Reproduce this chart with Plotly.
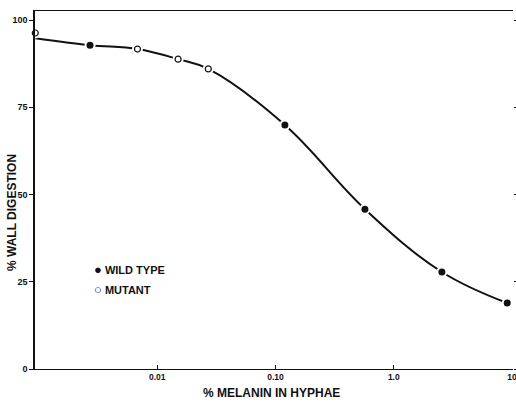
import plotly.graph_objects as go

# Data
wild_x = [0.0027, 0.12, 0.57, 2.55, 9.1]
wild_y = [92.8, 69.9, 45.8, 27.8, 18.9]
mutant_x = [0.00093, 0.0068, 0.015, 0.027]
mutant_y = [96.3, 91.7, 88.8, 86.0]
curve_x = [0.00093, 0.0027, 0.0068, 0.015, 0.027, 0.12, 0.57, 2.55, 9.1]
curve_y = [94.8, 92.8, 91.7, 88.8, 86.0, 69.9, 45.8, 27.8, 18.9]

y_ticks = [0, 25, 50, 75, 100]
y_ticktext = ["0", "25", "50", "75", "100"]
x_ticks = [0.01, 0.1, 1, 10]
x_ticktext = ["0.01", "0.10", "1.0", "10"]

FONT = "Liberation Sans"
INK = "#111111"

fig = go.Figure()

fig.add_trace(go.Scatter(x=curve_x, y=curve_y, mode="lines",
                         line=dict(color=INK, width=2, shape="spline", smoothing=1.1),
                         showlegend=False, hoverinfo="skip", cliponaxis=False))
# white halos that open small gaps in the line around each point
fig.add_trace(go.Scatter(x=wild_x + mutant_x, y=wild_y + mutant_y, mode="markers",
                         marker=dict(size=11, color="white", line=dict(width=0)),
                         showlegend=False, hoverinfo="skip", cliponaxis=False))
fig.add_trace(go.Scatter(x=wild_x, y=wild_y, mode="markers", name="WILD TYPE",
                         marker=dict(size=7, color=INK, line=dict(width=0)),
                         showlegend=False, cliponaxis=False))
fig.add_trace(go.Scatter(x=mutant_x, y=mutant_y, mode="markers", name="MUTANT",
                         marker=dict(size=6, color="white", line=dict(width=1.2, color=INK)),
                         showlegend=False, cliponaxis=False))
fig.add_trace(go.Scatter(x=[], y=[], yaxis="y2", showlegend=False))

L, R, T, B = 35, 3, 11, 34
PW, PH = 516 - L - R, 403 - T - B


def px(xp):
    return (xp - L) / PW


def py(yp):
    return (403 - B - yp) / PH


fig.update_layout(
    width=516, height=403,
    margin=dict(l=L, r=R, t=T, b=B, autoexpand=False),
    paper_bgcolor="white", plot_bgcolor="white",
    showlegend=False,
    font=dict(family=FONT, color=INK),
    xaxis=dict(type="log", range=[-3.034, 1.008], automargin=False,
               tickvals=x_ticks, ticktext=x_ticktext, ticklabeloverflow="allow",
               ticks="inside", ticklen=4, tickcolor=INK, tickwidth=1,
               tickfont=dict(family=FONT, size=8.5, color=INK, weight="bold"),
               showline=True, linecolor=INK, linewidth=1, mirror=True,
               showgrid=False, zeroline=False),
    yaxis=dict(range=[0, 102.6], tickvals=y_ticks, ticktext=y_ticktext, automargin=False,
               ticks="outside", ticklen=4, tickcolor=INK, tickwidth=1,
               tickfont=dict(family=FONT, size=9, color=INK, weight="bold"),
               showline=True, linecolor=INK, linewidth=1.5,
               showgrid=False, zeroline=False),
    yaxis2=dict(range=[0, 102.6], overlaying="y", side="right", automargin=False,
                tickvals=y_ticks, showticklabels=False,
                ticks="outside", ticklen=3, tickcolor=INK, tickwidth=1,
                showline=False, showgrid=False, zeroline=False),
    annotations=[
        dict(text="% WALL DIGESTION", xref="paper", yref="paper",
             x=px(12), y=py(213), textangle=-90, showarrow=False,
             xanchor="center", yanchor="middle",
             font=dict(family=FONT, size=12, color=INK, weight="bold")),
        dict(text="% MELANIN IN HYPHAE", xref="paper", yref="paper",
             x=px(271), y=py(393), showarrow=False,
             xanchor="center", yanchor="middle",
             font=dict(family=FONT, size=12, color=INK, weight="bold")),
        dict(text="<span style='font-size:13px'>\u25cf</span> WILD TYPE",
             xref="paper", yref="paper",
             x=px(92), y=py(269), showarrow=False,
             xanchor="left", yanchor="middle",
             font=dict(family=FONT, size=11, color=INK, weight="bold")),
        dict(text="<span style='font-size:13px'>\u25cb</span> MUTANT",
             xref="paper", yref="paper",
             x=px(92), y=py(289), showarrow=False,
             xanchor="left", yanchor="middle",
             font=dict(family=FONT, size=11, color=INK, weight="bold")),
    ],
)

fig.write_html("out.html", config={"displayModeBar": False},
               post_script="document.body.style.margin='0';document.body.style.overflow='hidden';")
